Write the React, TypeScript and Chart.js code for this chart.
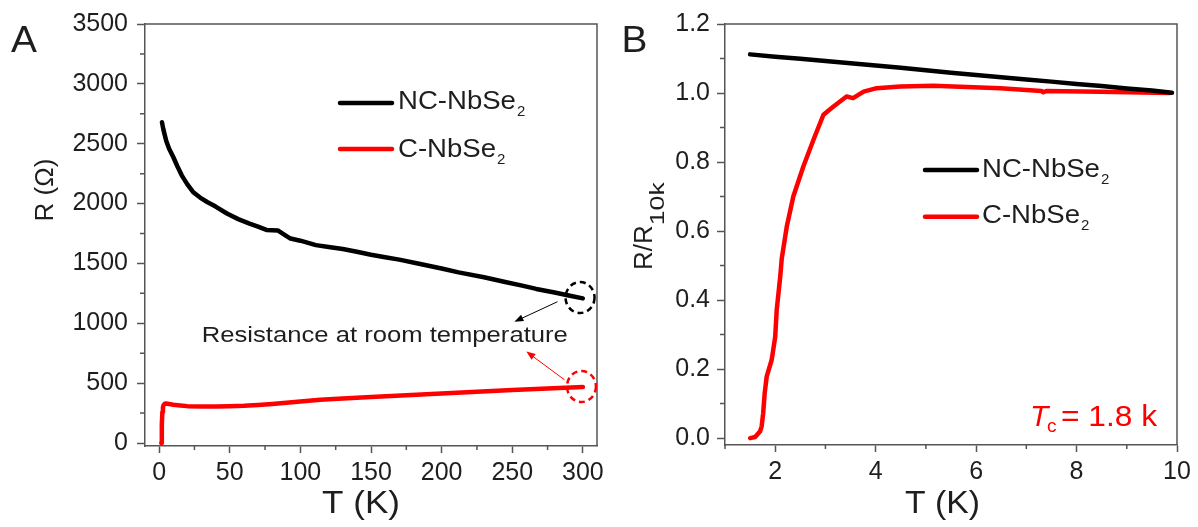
import React, { useEffect, useRef } from "react";
import { Chart, registerables } from "chart.js";

Chart.register(...registerables);

const FONT = '"Liberation Sans", Arial, sans-serif';
const AXIS = "#555555";
const INK = "#1e1e1e";
const BLACK = "#000000";
const RED = "#ff0000";

// ---------- Panel A : R (Ω) vs T (K) ----------
const tA_NC = [2, 3, 5, 7, 10, 13, 16, 20, 24, 29, 34, 40, 48, 56, 64, 70, 76, 80, 84, 88, 93, 100, 111, 120, 130, 140, 150, 160, 170, 184, 200, 212, 230, 245, 257, 267, 280, 290, 300];
const rA_NC = [2680, 2620, 2525, 2460, 2389, 2310, 2236, 2160, 2097, 2050, 2013, 1975, 1917, 1870, 1833, 1808, 1780, 1778, 1776, 1745, 1708, 1690, 1653, 1638, 1620, 1598, 1573, 1552, 1532, 1497, 1458, 1425, 1385, 1345, 1315, 1287, 1257, 1232, 1208];
const tA_C = [1.5, 1.8, 2.0, 2.3, 2.7, 3.2, 4, 5, 7, 10, 15, 20, 30, 40, 50, 60, 70, 80, 90, 100, 114, 130, 150, 175, 200, 225, 250, 275, 300];
const rA_C = [0, 20, 150, 260, 300, 318, 328, 330, 326, 320, 314, 308, 305, 305, 307, 311, 318, 326, 336, 347, 361, 372, 384, 398, 414, 428, 442, 455, 467];
const xTicksA = [0, 50, 100, 150, 200, 250, 300];
const xMinorA = [25, 75, 125, 175, 225, 275];
const yTicksA = [0, 500, 1000, 1500, 2000, 2500, 3000, 3500];
const yMinorA = [250, 750, 1250, 1750, 2250, 2750, 3250];
const xRangeA = [-10, 310];
const yRangeA = [-25, 3500];
// annotation anchors (data units)
const circlesA = [
  { t: 298, r: 1215, color: BLACK },
  { t: 299, r: 472, color: RED },
];
const arrowsA = [
  { t1: 282, r1: 1180, t2: 251.5, r2: 1013, color: BLACK },
  { t1: 287, r1: 528, t2: 260, r2: 764, color: RED },
];
const noteA = { t: 30.2, r: 847, text: "Resistance at room temperature" };

// ---------- Panel B : R/R10k vs T (K) ----------
const tB_NC = [1.5, 2, 2.5, 3, 3.5, 4, 4.5, 5, 5.5, 6, 6.5, 7, 7.5, 8, 8.5, 9, 9.5, 9.9];
const rB_NC = [1.112, 1.105, 1.099, 1.093, 1.086, 1.08, 1.073, 1.066, 1.059, 1.052, 1.046, 1.039, 1.033, 1.026, 1.02, 1.013, 1.007, 1.001];
const tB_C = [1.5, 1.6, 1.7, 1.73, 1.76, 1.79, 1.83, 1.93, 2.0, 2.03, 2.1, 2.13, 2.23, 2.36, 2.56, 2.76, 2.96, 3.16, 3.42, 3.55, 3.76, 4.02, 4.49, 5.15, 6.48, 7.3, 7.34, 7.4, 8.47, 9.86];
const rB_C = [0.0, 0.003, 0.02, 0.034, 0.072, 0.13, 0.178, 0.227, 0.294, 0.372, 0.468, 0.52, 0.613, 0.7, 0.787, 0.864, 0.937, 0.961, 0.99, 0.985, 1.004, 1.014, 1.019, 1.021, 1.014, 1.006, 1.002, 1.006, 1.004, 1.0];
const xTicksB = [2, 4, 6, 8, 10];
const xMinorB = [1, 3, 5, 7, 9];
const yTicksB = [0, 0.2, 0.4, 0.6, 0.8, 1.0, 1.2];
const yMinorB = [0.1, 0.3, 0.5, 0.7, 0.9, 1.1];
const xRangeB = [1, 10];
const yRangeB = [-0.02, 1.2];

const seriesLabels = ["NC-NbSe", "C-NbSe"];
const seriesSub = "2";

function drawText(ctx: CanvasRenderingContext2D, s: string, x: number, y: number, font: string, color: string, sx = 1, align: CanvasTextAlign = "left") {
  ctx.save();
  ctx.font = font;
  ctx.fillStyle = color;
  ctx.textAlign = align;
  ctx.textBaseline = "alphabetic";
  ctx.translate(x, y);
  ctx.scale(sx, 1);
  ctx.fillText(s, 0, 0);
  const w = ctx.measureText(s).width * sx;
  ctx.restore();
  return w;
}

function fitText(ctx: CanvasRenderingContext2D, s: string, x: number, y: number, font: string, color: string, width: number) {
  ctx.save();
  ctx.font = font;
  const nat = ctx.measureText(s).width;
  ctx.restore();
  return drawText(ctx, s, x, y, font, color, width / nat);
}

function drawFrame(chart: any, xMinor: number[], yMinor: number[]) {
  const { ctx, chartArea, scales } = chart;
  ctx.save();
  ctx.strokeStyle = AXIS;
  ctx.lineWidth = 1.5;
  ctx.beginPath();
  for (const v of xMinor) {
    const px = scales.x.getPixelForValue(v);
    ctx.moveTo(px, chartArea.bottom);
    ctx.lineTo(px, chartArea.bottom + 4);
  }
  for (const v of yMinor) {
    const py = scales.y.getPixelForValue(v);
    ctx.moveTo(chartArea.left, py);
    ctx.lineTo(chartArea.left - 5, py);
  }
  ctx.stroke();
  ctx.beginPath();
  ctx.moveTo(chartArea.left, chartArea.top);
  ctx.lineTo(chartArea.right, chartArea.top);
  ctx.lineTo(chartArea.right, chartArea.bottom);
  ctx.stroke();
  ctx.restore();
}

function legendItem(ctx: CanvasRenderingContext2D, x1: number, x2: number, ly: number, tx: number, base: number, color: string, label: string) {
  ctx.save();
  ctx.strokeStyle = color;
  ctx.lineWidth = 4.5;
  ctx.lineCap = "round";
  ctx.beginPath();
  ctx.moveTo(x1, ly);
  ctx.lineTo(x2, ly);
  ctx.stroke();
  ctx.restore();
  const w = drawText(ctx, label, tx, base, `26px ${FONT}`, INK, 1.06);
  drawText(ctx, seriesSub, tx + w + 1, base + 7, `15px ${FONT}`, INK);
}

function arrow(ctx: CanvasRenderingContext2D, x1: number, y1: number, x2: number, y2: number, color: string) {
  const a = Math.atan2(y2 - y1, x2 - x1);
  const L = 9, H = 3.5;
  ctx.save();
  ctx.strokeStyle = color;
  ctx.fillStyle = color;
  ctx.lineWidth = 1;
  ctx.beginPath();
  ctx.moveTo(x1, y1);
  ctx.lineTo(x2 - Math.cos(a) * L * 0.8, y2 - Math.sin(a) * L * 0.8);
  ctx.stroke();
  ctx.beginPath();
  ctx.moveTo(x2, y2);
  ctx.lineTo(x2 - Math.cos(a) * L + Math.sin(a) * H, y2 - Math.sin(a) * L - Math.cos(a) * H);
  ctx.lineTo(x2 - Math.cos(a) * L - Math.sin(a) * H, y2 - Math.sin(a) * L + Math.cos(a) * H);
  ctx.closePath();
  ctx.fill();
  ctx.restore();
}

const plotA = {
  id: "decorA",
  afterDraw(chart: any) {
    const { ctx, scales } = chart;
    drawFrame(chart, xMinorA, yMinorA);
    drawText(ctx, "A", 11, 51.7, `37px ${FONT}`, INK, 1.05);
    ctx.save();
    ctx.translate(53, 190);
    ctx.rotate(-Math.PI / 2);
    ctx.font = `26px ${FONT}`;
    ctx.fillStyle = INK;
    ctx.textAlign = "center";
    ctx.fillText("R (Ω)", 0, 0);
    ctx.restore();
    fitText(ctx, "T (K)", 322, 513, `32px ${FONT}`, INK, 78);
    legendItem(ctx, 340, 392, 103, 398, 109.3, BLACK, seriesLabels[0]);
    legendItem(ctx, 340, 392, 149, 398, 156.7, RED, seriesLabels[1]);
    const nx = scales.x.getPixelForValue(noteA.t);
    const ny = scales.y.getPixelForValue(noteA.r);
    fitText(ctx, noteA.text, nx, ny, `22px ${FONT}`, INK, 366);
    for (const a of arrowsA) {
      arrow(ctx, scales.x.getPixelForValue(a.t1), scales.y.getPixelForValue(a.r1), scales.x.getPixelForValue(a.t2), scales.y.getPixelForValue(a.r2), a.color);
    }
    for (const c of circlesA) {
      const cx = scales.x.getPixelForValue(c.t);
      const cy = scales.y.getPixelForValue(c.r);
      ctx.save();
      ctx.strokeStyle = c.color;
      ctx.lineWidth = 2.5;
      ctx.setLineDash([6, 4]);
      ctx.beginPath();
      ctx.ellipse(cx, cy, 14.5, 15.5, 0, 0, Math.PI * 2);
      ctx.stroke();
      ctx.restore();
    }
  },
};

const OXB = 600;
const plotB = {
  id: "decorB",
  afterDraw(chart: any) {
    const { ctx } = chart;
    drawFrame(chart, xMinorB, yMinorB);
    drawText(ctx, "B", 621.5 - OXB, 51.7, `37px ${FONT}`, INK, 1.05);
    ctx.save();
    ctx.translate(652 - OXB, 270);
    ctx.rotate(-Math.PI / 2);
    ctx.font = `26px ${FONT}`;
    ctx.fillStyle = INK;
    ctx.textAlign = "left";
    ctx.fillText("R/R", 0, 0);
    const w = ctx.measureText("R/R").width;
    ctx.font = `20px ${FONT}`;
    const nat = ctx.measureText("10k").width;
    ctx.translate(w, 11.5);
    ctx.scale(43 / nat, 1);
    ctx.fillText("10k", 0, 0);
    ctx.restore();
    fitText(ctx, "T (K)", 905 - OXB, 513, `32px ${FONT}`, INK, 75);
    legendItem(ctx, 925 - OXB, 977 - OXB, 170, 982 - OXB, 176.7, BLACK, seriesLabels[0]);
    legendItem(ctx, 925 - OXB, 977 - OXB, 216.7, 982 - OXB, 223, RED, seriesLabels[1]);
    drawText(ctx, "T", 1030 - OXB, 425.7, `italic 30px ${FONT}`, RED);
    drawText(ctx, "c", 1047 - OXB, 432, `19px ${FONT}`, RED);
    fitText(ctx, "= 1.8 k", 1061 - OXB, 425.7, `30px ${FONT}`, RED, 96);
  },
};

function toXY(xs: number[], ys: number[]) {
  return xs.map((x, i) => ({ x, y: ys[i] }));
}

function makeConfig(opts: any) {
  return {
    type: "scatter" as const,
    data: {
      datasets: [
        { label: "NC-NbSe2", data: opts.nc, showLine: true, borderColor: BLACK, backgroundColor: BLACK, borderWidth: 4.5, pointRadius: 0, tension: 0, borderJoinStyle: "round", borderCapStyle: "round" },
        { label: "C-NbSe2", data: opts.c, showLine: true, borderColor: RED, backgroundColor: RED, borderWidth: 4.5, pointRadius: 0, tension: 0, borderJoinStyle: "round", borderCapStyle: "round" },
      ],
    },
    options: {
      responsive: false,
      animation: false,
      devicePixelRatio: 1,
      layout: { padding: opts.pad },
      plugins: { legend: { display: false }, tooltip: { enabled: false }, title: { display: false } },
      scales: {
        x: {
          type: "linear",
          min: opts.xr[0],
          max: opts.xr[1],
          afterBuildTicks: (s: any) => { s.ticks = opts.xt.map((v: number) => ({ value: v })); },
          afterFit: (s: any) => { s.height = opts.xH; },
          ticks: { font: { family: FONT, size: 25 }, color: INK, padding: 5, maxRotation: 0, autoSkip: false, callback: (v: any) => String(v) },
          grid: { drawOnChartArea: false, drawTicks: true, tickLength: 7, tickColor: AXIS, tickWidth: 1.5 },
          border: { display: true, color: AXIS, width: 1.5 },
        },
        y: {
          type: "linear",
          min: opts.yr[0],
          max: opts.yr[1],
          afterBuildTicks: (s: any) => { s.ticks = opts.yt.map((v: number) => ({ value: v })); },
          afterFit: (s: any) => { s.width = opts.yW; },
          ticks: { font: { family: FONT, size: 25 }, color: INK, padding: opts.yPad, autoSkip: false, callback: (v: any) => opts.yFmt(Number(v)) },
          grid: { drawOnChartArea: false, drawTicks: true, tickLength: 8, tickColor: AXIS, tickWidth: 1.5 },
          border: { display: true, color: AXIS, width: 1.5 },
        },
      },
    },
    plugins: [opts.plugin],
  };
}

export default function App() {
  const refA = useRef<HTMLCanvasElement | null>(null);
  const refB = useRef<HTMLCanvasElement | null>(null);

  useEffect(() => {
    const cA = new Chart(refA.current as HTMLCanvasElement, makeConfig({
      nc: toXY(tA_NC, rA_NC),
      c: toXY(tA_C, rA_C),
      xr: xRangeA,
      yr: yRangeA,
      xt: xTicksA,
      yt: yTicksA,
      yFmt: (v: number) => String(v),
      yW: 145,
      xH: 81,
      pad: { left: 0, top: 23.5, right: 23, bottom: 0 },
      yPad: 9,
      plugin: plotA,
    }) as any);
    const cB = new Chart(refB.current as HTMLCanvasElement, makeConfig({
      nc: toXY(tB_NC, rB_NC),
      c: toXY(tB_C, rB_C),
      xr: xRangeB,
      yr: yRangeB,
      xt: xTicksB,
      yt: yTicksB,
      yFmt: (v: number) => v.toFixed(1),
      yW: 125,
      xH: 82,
      pad: { left: 0, top: 24, right: 21, bottom: 0 },
      yPad: 7,
      plugin: plotB,
    }) as any);
    return () => {
      cA.destroy();
      cB.destroy();
    };
  }, []);

  return (
    <div style={{ position: "absolute", left: 0, top: 0, width: 1198, height: 527, background: "#fff", overflow: "hidden" }}>
      <canvas ref={refA} width={620} height={527} style={{ position: "absolute", left: 0, top: 0, width: 620, height: 527 }} />
      <canvas ref={refB} width={598} height={527} style={{ position: "absolute", left: 600, top: 0, width: 598, height: 527 }} />
    </div>
  );
}
